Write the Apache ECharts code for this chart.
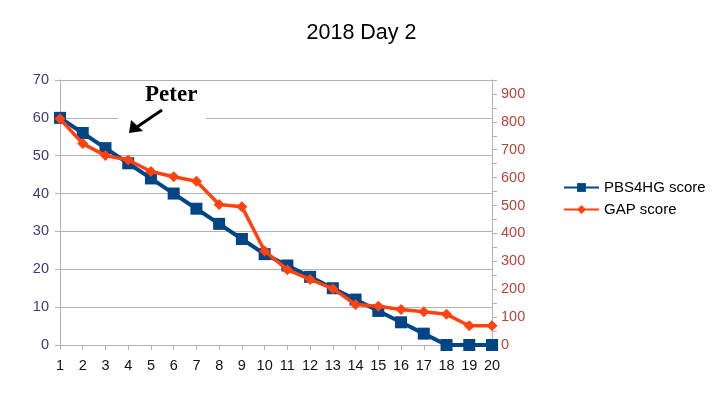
<!DOCTYPE html>
<html>
<head>
<meta charset="utf-8">
<script src="https://cdn.jsdelivr.net/npm/echarts@6/dist/echarts.min.js"></script>
<style>
html, body { margin: 0; padding: 0; background: #fff; }
#chart { width: 723px; height: 398px; }
</style>
</head>
<body>
<div id="chart"></div>
<script>
var days = ['1','2','3','4','5','6','7','8','9','10','11','12','13','14','15','16','17','18','19','20'];
var pbsScore = [60,56,52,48,44,40,36,32,28,24,21,18,15,12,9,6,3,0,0,0];
var gapScore = [811,722,679,663,622,603,587,504,496,337,270,235,202,145,139,127,119,110,69,69];

var chart = echarts.init(document.getElementById('chart'));

var option = {
    animation: false,
    title: {
        text: '2018 Day 2',
        left: 'center',
        top: 17,
        textStyle: { fontFamily: 'Liberation Sans', fontSize: 21.5, fontWeight: 'normal', color: '#000' }
    },
    legend: {
        orient: 'vertical',
        left: 563,
        top: 180,
        padding: 0,
        itemWidth: 35,
        itemHeight: 11,
        itemGap: 7,
        textStyle: { fontFamily: 'Liberation Sans', fontSize: 15, color: '#000' },
        data: ['PBS4HG score', 'GAP score']
    },
    grid: { left: 60, right: 231, top: 80, bottom: 53 },
    xAxis: {
        type: 'category',
        boundaryGap: false,
        data: days,
        axisLine: { lineStyle: { color: '#b3b3b3' } },
        axisTick: { show: true, length: 5, lineStyle: { color: '#b3b3b3' } },
        axisLabel: { fontFamily: 'Liberation Sans', fontSize: 14.5, color: '#111', margin: 13 }
    },
    yAxis: [
        {
            type: 'value',
            min: 0, max: 70, interval: 10,
            axisLine: { show: true, lineStyle: { color: '#b3b3b3' } },
            axisTick: { show: true, length: 5, lineStyle: { color: '#b3b3b3' } },
            axisLabel: { fontFamily: 'Liberation Sans', fontSize: 14.5, color: '#3b3b7d', margin: 11 },
            splitLine: { lineStyle: { color: '#b3b3b3', width: 1 } }
        },
        {
            type: 'value',
            min: 0, max: 950, interval: 100,
            axisLine: { show: true, lineStyle: { color: '#b3b3b3' } },
            axisTick: { show: true, length: 5, lineStyle: { color: '#b3b3b3' } },
            minorTick: { show: true, splitNumber: 2, length: 5, lineStyle: { color: '#b3b3b3' } },
            axisLabel: { fontFamily: 'Liberation Sans', fontSize: 14.5, color: '#b5453a', margin: 9, showMaxLabel: false },
            splitLine: { show: false }
        }
    ],
    graphic: [
        { type: 'rect', left: 118, top: 108, shape: { width: 88, height: 18 }, style: { fill: '#fff' }, z: 10 },
        { type: 'text', left: 145, top: 84, style: { text: 'Peter', fill: '#000', font: 'bold 23px "Liberation Serif"' }, z: 11 },
        { type: 'line', shape: { x1: 162, y1: 110, x2: 134, y2: 129 }, style: { stroke: '#000', lineWidth: 3 }, z: 11 },
        { type: 'polygon', shape: { points: [[129, 133], [131, 120], [143, 131]] }, style: { fill: '#000' }, z: 11 }
    ],
    series: [
        {
            name: 'PBS4HG score',
            type: 'line',
            yAxisIndex: 0,
            data: pbsScore,
            symbol: 'rect',
            symbolSize: 12,
            itemStyle: { color: '#004586' },
            lineStyle: { color: '#004586', width: 4 },
            z: 3
        },
        {
            name: 'GAP score',
            type: 'line',
            yAxisIndex: 1,
            data: gapScore,
            symbol: 'diamond',
            symbolSize: 11,
            itemStyle: { color: '#ff420e' },
            lineStyle: { color: '#ff420e', width: 3.5 },
            z: 4
        }
    ]
};

chart.setOption(option);
</script>
</body>
</html>
